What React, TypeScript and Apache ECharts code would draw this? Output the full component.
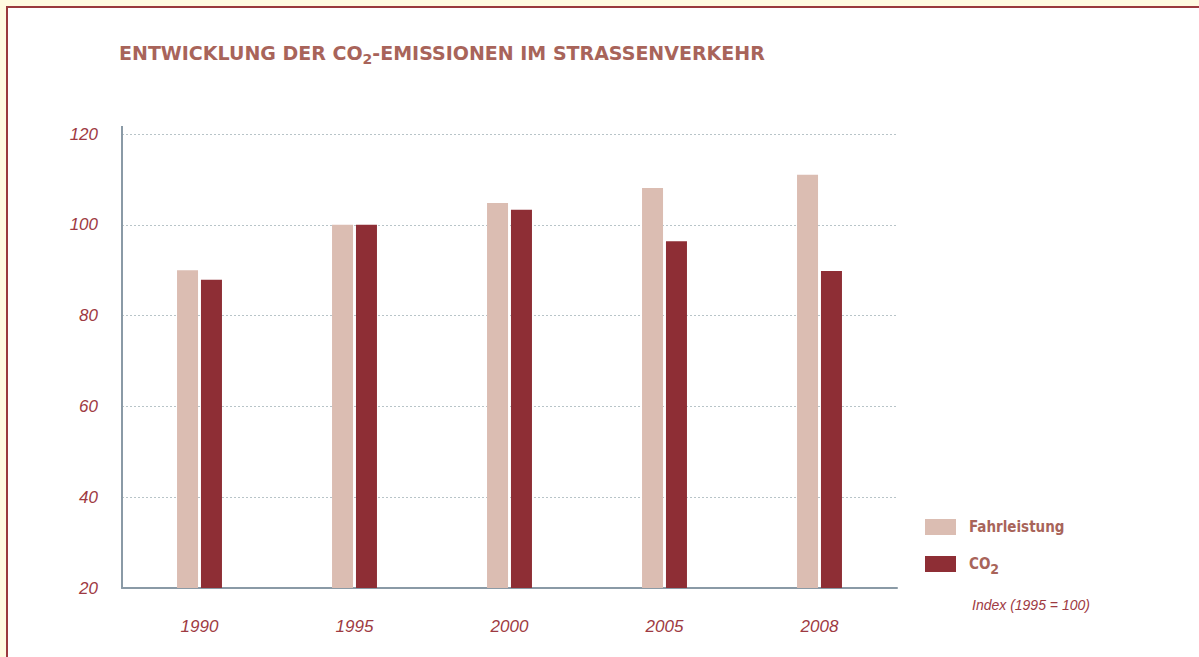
import React, { useEffect, useRef } from "react";
import * as echarts from "echarts";

const categories = ["1990", "1995", "2000", "2005", "2008"];
const fahrleistung = [90, 100, 104.8, 108.1, 111];
const co2 = [87.9, 100, 103.3, 96.4, 89.8];
const yTicks = { min: 20, max: 120, interval: 20 };

const LIGHT = "#dbbdb2";
const DARK = "#8e2e35";
const TEXT_RED = "#a8645a";
const LABEL_RED = "#9e3a42";
const AXIS = "#8a9aa6";

export default function App() {
  const ref = useRef<HTMLDivElement>(null);
  useEffect(() => {
    const chart = echarts.init(ref.current!, undefined, { renderer: "svg" });
    chart.setOption({
      animation: false,
      backgroundColor: "#fffbe1",
      graphic: [
        {
          type: "rect",
          z: -10,
          shape: { x: 7, y: 7, width: 1300, height: 700 },
          style: { fill: "#ffffff", stroke: "#9a3a3e", lineWidth: 2 },
          silent: true,
        },
        {
          type: "text",
          left: 119,
          top: 43,
          style: {
            text: "ENTWICKLUNG DER CO{s|2}-EMISSIONEN IM STRASSENVERKEHR",
            rich: {
              s: {
                fontFamily: "DejaVu Sans",
                fontWeight: "bold",
                fontSize: 14,
                fill: TEXT_RED,
                padding: [12, 0, 0, 0],
              },
            },
            fontFamily: "DejaVu Sans",
            fontWeight: "bold",
            fontSize: 19,
            fill: TEXT_RED,
          },
        },
        {
          type: "text",
          left: 972,
          top: 598,
          style: {
            text: "Index (1995 = 100)",
            fontFamily: "Liberation Sans",
            fontStyle: "italic",
            fontSize: 14,
            fill: LABEL_RED,
          },
        },
        {
          type: "line",
          shape: { x1: 122, y1: 126, x2: 122, y2: 134 },
          style: { stroke: AXIS, lineWidth: 2 },
        },
      ],
      legend: {
        orient: "vertical",
        left: 925,
        top: 519,
        padding: 0,
        itemWidth: 31,
        itemHeight: 16,
        itemGap: 21,
        icon: "rect",
        formatter: (name: string) => (name === "CO2" ? "CO{s|2}" : name),
        textStyle: {
          fontFamily: "DejaVu Sans Condensed",
          fontWeight: "bold",
          fontSize: 15,
          color: TEXT_RED,
          padding: [0, 0, 0, 8],
          rich: {
            s: {
              fontFamily: "DejaVu Sans Condensed",
              fontWeight: "bold",
              fontSize: 14,
              color: TEXT_RED,
              padding: [10, 0, 0, 0],
            },
          },
        },
      },
      grid: { left: 122, right: 302, top: 134, bottom: 69 },
      xAxis: {
        type: "category",
        data: categories,
        axisLine: { lineStyle: { color: AXIS, width: 2 } },
        axisTick: { show: false },
        axisLabel: {
          margin: 30,
          fontFamily: "Liberation Sans",
          fontStyle: "italic",
          fontSize: 17,
          color: LABEL_RED,
        },
      },
      yAxis: {
        type: "value",
        min: yTicks.min,
        max: yTicks.max,
        interval: yTicks.interval,
        axisLine: { show: true, lineStyle: { color: AXIS, width: 2 } },
        axisTick: { show: false },
        axisLabel: {
          margin: 24,
          fontFamily: "Liberation Sans",
          fontStyle: "italic",
          fontSize: 17,
          color: LABEL_RED,
          verticalAlign: "middle",
          padding: [0, 0, 4, 0],
        },
        splitLine: {
          lineStyle: { color: "#b8c4c8", type: [2, 2], width: 1 },
        },
      },
      series: [
        {
          name: "Fahrleistung",
          type: "bar",
          data: fahrleistung,
          barWidth: 21,
          barGap: "14%",
          itemStyle: { color: LIGHT },
        },
        {
          name: "CO2",
          type: "bar",
          data: co2,
          barWidth: 21,
          itemStyle: { color: DARK },
        },
      ],
    });
    return () => chart.dispose();
  }, []);
  return (
    <div
      ref={ref}
      style={{ position: "absolute", left: 0, top: 0, width: 1199, height: 657 }}
    />
  );
}
